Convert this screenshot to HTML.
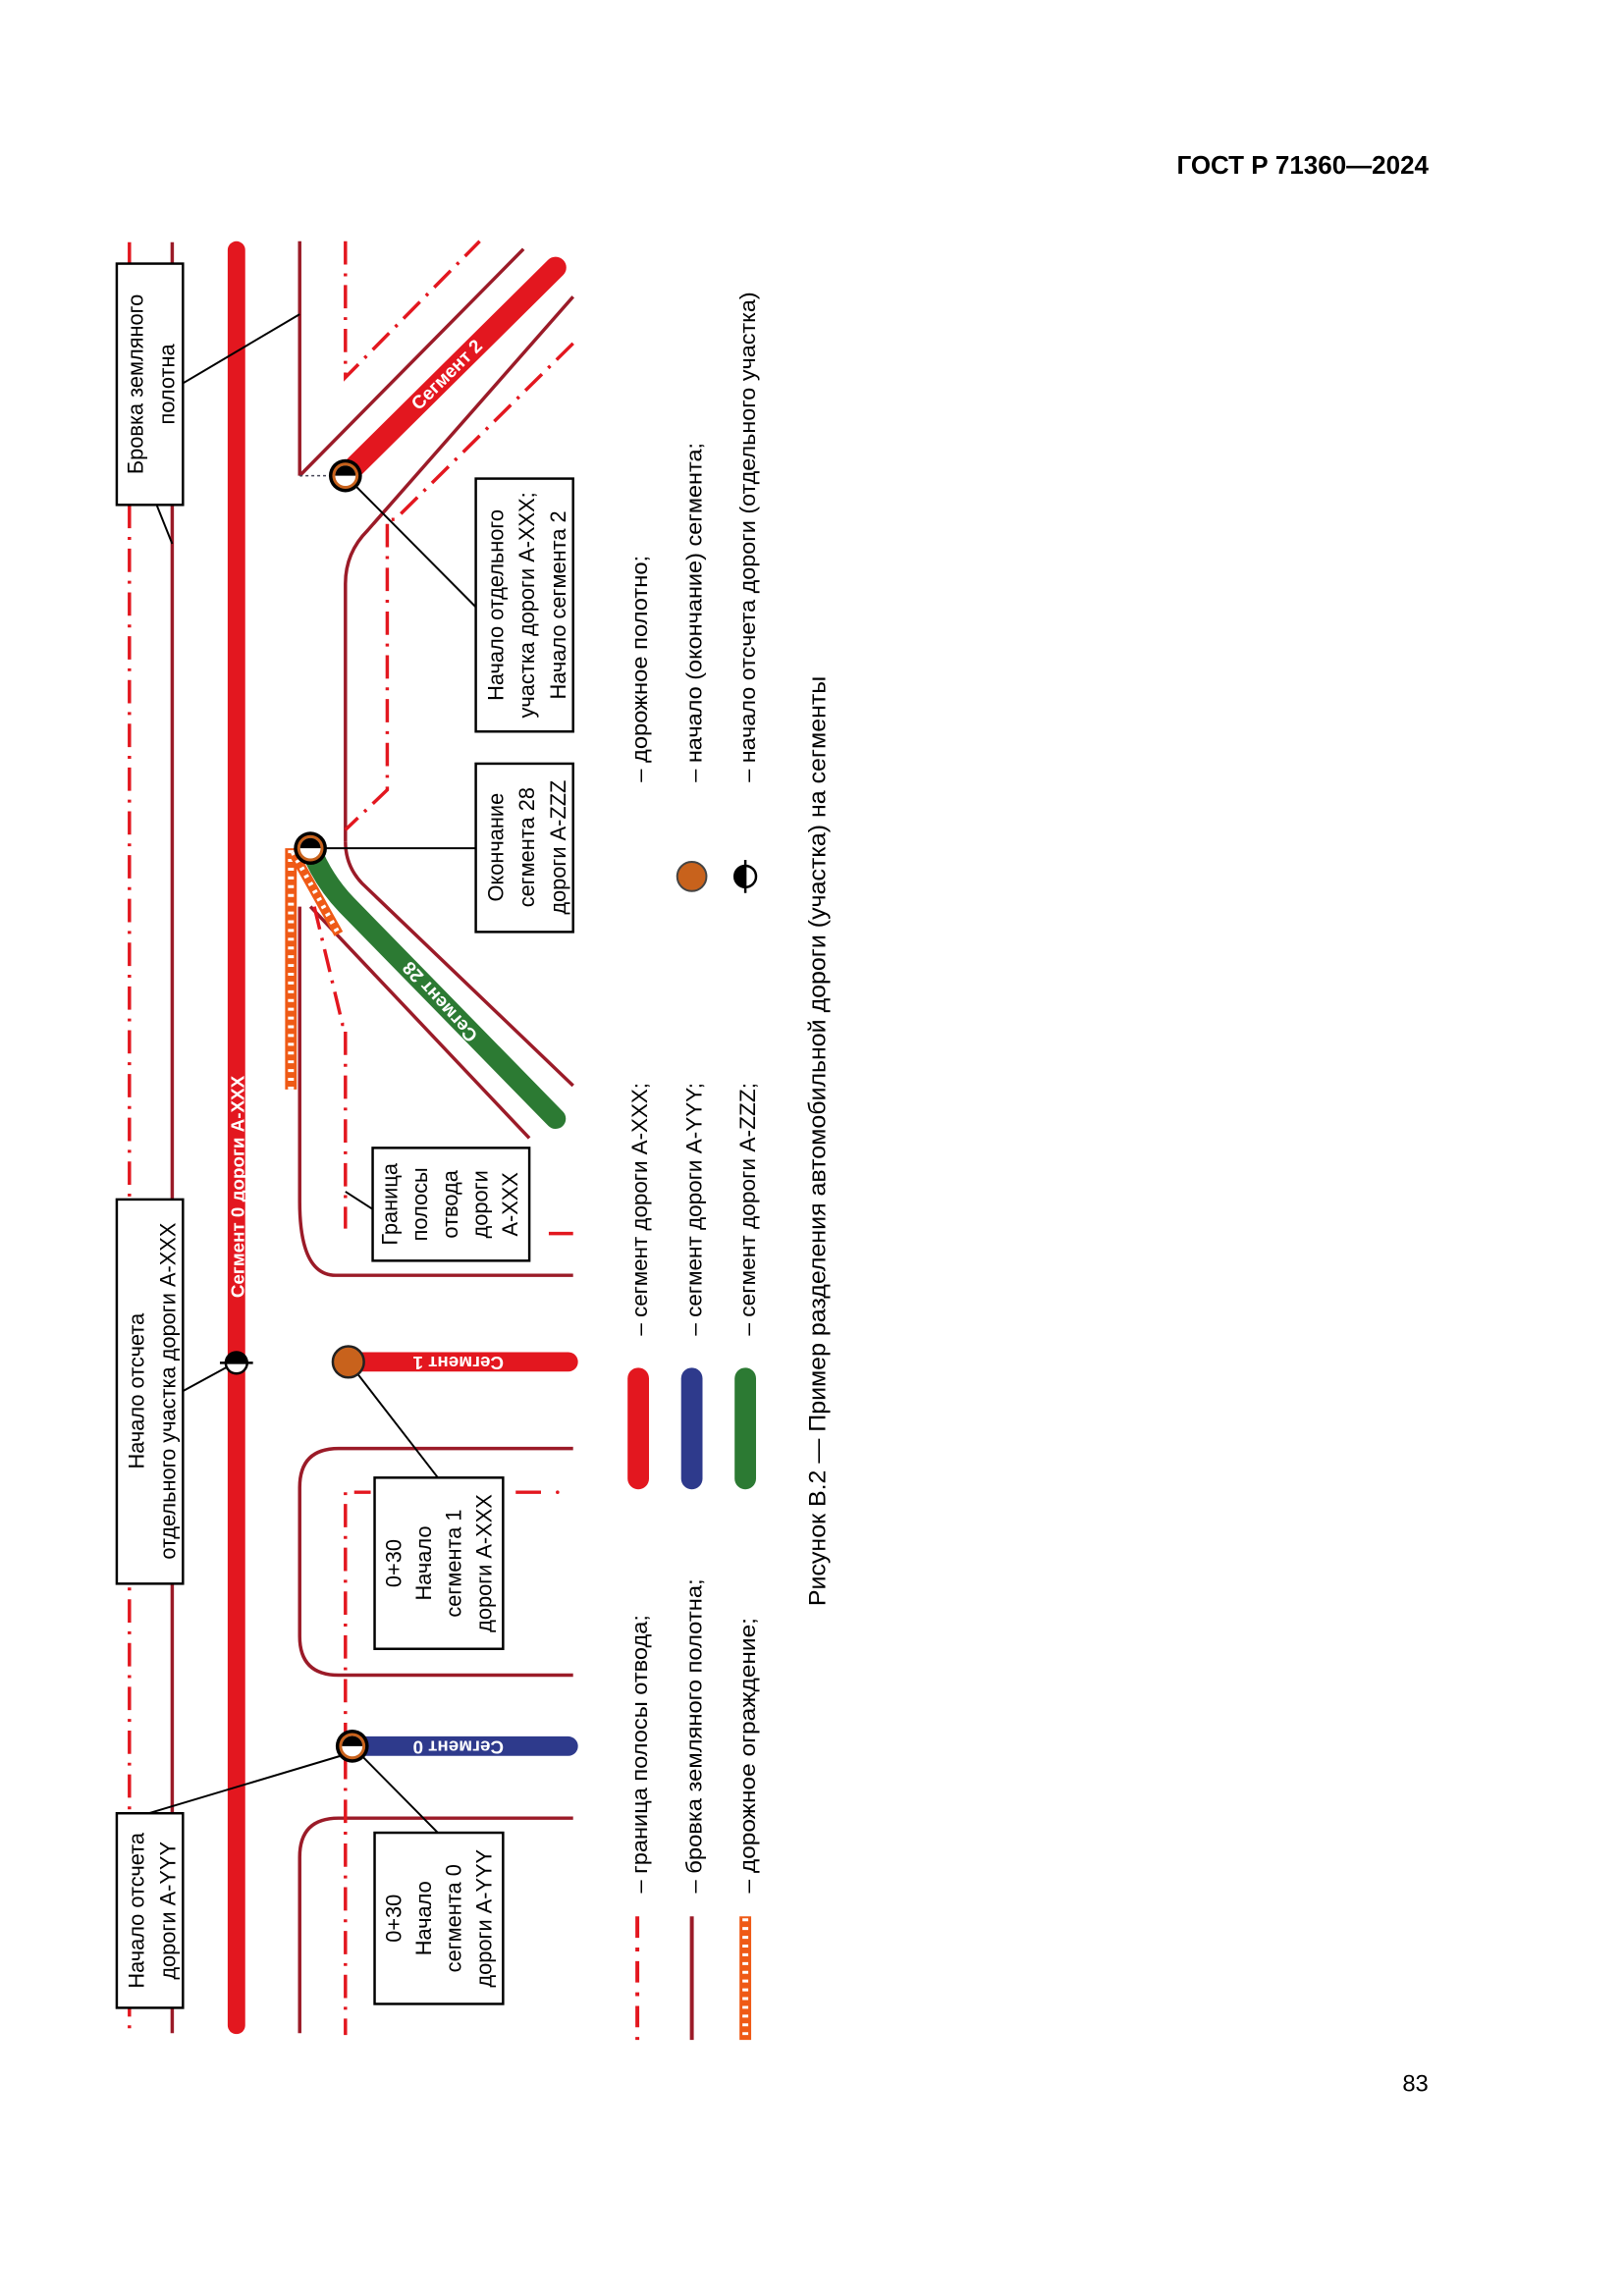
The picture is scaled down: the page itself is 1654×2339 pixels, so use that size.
<!DOCTYPE html>
<html><head><meta charset="utf-8"><style>
html,body{margin:0;padding:0;background:#fff}
svg{display:block}
text{font-family:"Liberation Sans",sans-serif}
</style></head><body>
<svg width="1654" height="2339" viewBox="0 0 1654 2339" xmlns="http://www.w3.org/2000/svg">
<defs>
<g id="half">
<circle r="11" fill="#fff" stroke="#000" stroke-width="2.5"/>
<path d="M-11,0 A11,11 0 0 1 11,0 Z" fill="#000"/>
<line x1="-17" y1="0" x2="17" y2="0" stroke="#000" stroke-width="2.5"/>
</g>
<g id="combo">
<circle r="17" fill="#000"/>
<circle r="13.5" fill="#c8621c"/>
<circle r="10.5" fill="#fff"/>
<path d="M-10.5,0 A10.5,10.5 0 0 1 10.5,0 Z" fill="#000"/>
</g>
</defs>

<text x="1455" y="177" font-size="26" font-weight="bold" text-anchor="end">ГОСТ Р 71360—2024</text>

<g transform="scale(0.991)">
<text x="1468" y="2150" font-size="24" text-anchor="end">83</text>

<g fill="none" stroke-linecap="butt">
<line x1="133" y1="249" x2="133" y2="2090" stroke="#e3171f" stroke-width="3.5" stroke-dasharray="24 9 3 9"/>
<line x1="177" y1="249" x2="177" y2="2090" stroke="#9b1b28" stroke-width="3.5"/>
<line x1="243" y1="257" x2="243" y2="2082" stroke="#e3171f" stroke-width="18" stroke-linecap="round"/>

<line x1="308" y1="248" x2="308" y2="489" stroke="#9b1b28" stroke-width="3.5"/>
<line x1="308" y1="489" x2="538" y2="256" stroke="#9b1b28" stroke-width="3.5"/>
<line x1="308" y1="489" x2="352" y2="489" stroke="#445" stroke-width="1.5" stroke-dasharray="3 3"/>
<line x1="355" y1="489" x2="571" y2="275" stroke="#e3171f" stroke-width="22" stroke-linecap="round"/>
<path d="M355,865 L355,600 Q355,568 378,545 L589,305" stroke="#9b1b28" stroke-width="3.5"/>
<path d="M355,248 L355,388 L493,248" stroke="#e3171f" stroke-width="3.5" stroke-dasharray="24 9 3 9"/>
<path d="M589,353 L406,534 L398,534 L398,812 L355,853" stroke="#e3171f" stroke-width="3.5" stroke-dasharray="24 9 3 9"/>

<path d="M319,872 Q332,905 356,930 L571,1150" stroke="#2c7a33" stroke-width="21" stroke-linecap="round"/>
<path d="M355,865 Q355,890 372,908 L589,1116" stroke="#9b1b28" stroke-width="3.5"/>
<path d="M319,932 L544,1170" stroke="#9b1b28" stroke-width="3.5"/>
<path d="M308,932 L308,1235 Q308,1311 345,1311 L589,1311" stroke="#9b1b28" stroke-width="3.5"/>
<line x1="299" y1="872" x2="299" y2="1120" stroke="#ef5a16" stroke-width="12"/>
<line x1="299" y1="874" x2="299" y2="1120" stroke="#fff" stroke-width="6" stroke-dasharray="3 6"/>
<line x1="301" y1="876" x2="348" y2="960" stroke="#ef5a16" stroke-width="10"/>
<line x1="301" y1="876" x2="348" y2="960" stroke="#fff" stroke-width="5" stroke-dasharray="3 6"/>
<path d="M323,932 L352,1053 L355,1053 L355,1263" stroke="#e3171f" stroke-width="3.5" stroke-dasharray="24 9 3 9"/>
<line x1="564" y1="1268" x2="589" y2="1268" stroke="#e3171f" stroke-width="3.5"/>

<line x1="358" y1="1400" x2="584" y2="1400" stroke="#e3171f" stroke-width="20" stroke-linecap="round"/>
<path d="M589,1489 L348,1489 Q308,1489 308,1529 L308,1682 Q308,1722 348,1722 L589,1722" stroke="#9b1b28" stroke-width="3.5"/>
<path d="M355,1795 L355,1534 L381,1534" stroke="#e3171f" stroke-width="3.5" stroke-dasharray="24 9 3 9"/>
<path d="M530,1534 L556,1534" stroke="#e3171f" stroke-width="3.5"/>
<circle cx="573" cy="1534" r="1.8" fill="#e3171f"/>

<line x1="362" y1="1795" x2="584" y2="1795" stroke="#2e3a8c" stroke-width="20" stroke-linecap="round"/>
<path d="M589,1869 L348,1869 Q308,1869 308,1909 L308,2090" stroke="#9b1b28" stroke-width="3.5"/>
<line x1="355" y1="1805" x2="355" y2="2092" stroke="#e3171f" stroke-width="3.5" stroke-dasharray="24 9 3 9"/>

<g stroke="#000" stroke-width="2">
<line x1="188" y1="394" x2="308" y2="323"/>
<line x1="161" y1="519" x2="177" y2="559"/>
<line x1="355" y1="489" x2="489" y2="624"/>
<line x1="319" y1="872" x2="489" y2="872"/>
<line x1="355" y1="1225" x2="383" y2="1243"/>
<line x1="188" y1="1430" x2="243" y2="1400"/>
<line x1="358" y1="1400" x2="450" y2="1519"/>
<line x1="153" y1="1864" x2="350" y2="1805"/>
<line x1="362" y1="1795" x2="450" y2="1884"/>
</g>
</g>

<use href="#combo" x="355" y="489"/>
<use href="#combo" x="319" y="872"/>
<use href="#combo" x="362" y="1795"/>
<circle cx="358" cy="1400" r="16" fill="#c8621c" stroke="#222" stroke-width="2.5"/>
<use href="#half" x="243" y="1401"/>

<g font-weight="bold" fill="#fff" font-size="19" text-anchor="middle" dominant-baseline="central">
<text transform="translate(244,1220) rotate(-90)">Сегмент 0 дороги А-XXX</text>
<text transform="translate(459,385) rotate(-44.7)">Сегмент 2</text>
<text transform="translate(452,1030) rotate(-132.2)">Сегмент 28</text>
<text transform="translate(471,1401) rotate(180)">Сегмент 1</text>
<text transform="translate(471,1796) rotate(180)">Сегмент 0</text>
</g>

<g fill="#fff" stroke="#000" stroke-width="2.5">
<rect x="120" y="271" width="68" height="248"/>
<rect x="489" y="492" width="100" height="260"/>
<rect x="489" y="785" width="100" height="173"/>
<rect x="383" y="1180" width="161" height="116"/>
<rect x="385" y="1519" width="132" height="176"/>
<rect x="385" y="1884" width="132" height="176"/>
<rect x="120" y="1233" width="68" height="395"/>
<rect x="120" y="1864" width="68" height="200"/>
</g>
<g font-size="22" text-anchor="middle">
<text transform="translate(147,395) rotate(-90)"><tspan x="0">Бровка земляного</tspan><tspan x="0" dy="32">полотна</tspan></text>
<text transform="translate(517,622) rotate(-90)"><tspan x="0">Начало отдельного</tspan><tspan x="0" dy="32">участка дороги А-XXX;</tspan><tspan x="0" dy="32">Начало сегмента 2</tspan></text>
<text transform="translate(517,871) rotate(-90)"><tspan x="0">Окончание</tspan><tspan x="0" dy="32">сегмента 28</tspan><tspan x="0" dy="32">дороги А-ZZZ</tspan></text>
<text transform="translate(408,1238) rotate(-90)"><tspan x="0">Граница</tspan><tspan x="0" dy="31">полосы</tspan><tspan x="0" dy="31">отвода</tspan><tspan x="0" dy="31">дороги</tspan><tspan x="0" dy="31">А-XXX</tspan></text>
<text transform="translate(412,1607) rotate(-90)"><tspan x="0">0+30</tspan><tspan x="0" dy="31">Начало</tspan><tspan x="0" dy="31">сегмента 1</tspan><tspan x="0" dy="31">дороги А-XXX</tspan></text>
<text transform="translate(412,1972) rotate(-90)"><tspan x="0">0+30</tspan><tspan x="0" dy="31">Начало</tspan><tspan x="0" dy="31">сегмента 0</tspan><tspan x="0" dy="31">дороги А-YYY</tspan></text>
<text transform="translate(148,1430) rotate(-90)"><tspan x="0">Начало отсчета</tspan><tspan x="0" dy="32">отдельного участка дороги А-XXX</tspan></text>
<text transform="translate(148,1964) rotate(-90)"><tspan x="0">Начало отсчета</tspan><tspan x="0" dy="32">дороги А-YYY</tspan></text>
</g>

<line x1="655" y1="1970" x2="655" y2="2097" stroke="#e3171f" stroke-width="4" stroke-dasharray="22 10 4 10"/>
<line x1="711" y1="1970" x2="711" y2="2097" stroke="#9b1b28" stroke-width="4"/>
<line x1="766" y1="1970" x2="766" y2="2097" stroke="#ef5a16" stroke-width="12"/>
<line x1="766" y1="1972" x2="766" y2="2097" stroke="#fff" stroke-width="6" stroke-dasharray="3 6"/>
<line x1="656" y1="1417" x2="656" y2="1520" stroke="#e3171f" stroke-width="22" stroke-linecap="round"/>
<line x1="711" y1="1417" x2="711" y2="1520" stroke="#2e3a8c" stroke-width="22" stroke-linecap="round"/>
<line x1="766" y1="1417" x2="766" y2="1520" stroke="#2c7a33" stroke-width="22" stroke-linecap="round"/>
<circle cx="711" cy="901" r="15" fill="#c8621c" stroke="#444" stroke-width="2"/>
<g transform="translate(766,901) rotate(-90)"><use href="#half"/></g>

<g font-size="22">
<text transform="translate(665,1946) rotate(-90)" textLength="286" lengthAdjust="spacingAndGlyphs">– граница полосы отвода;</text>
<text transform="translate(721,1946) rotate(-90)" textLength="323" lengthAdjust="spacingAndGlyphs">– бровка земляного полотна;</text>
<text transform="translate(776,1946) rotate(-90)" textLength="283" lengthAdjust="spacingAndGlyphs">– дорожное ограждение;</text>
<text transform="translate(665,1373) rotate(-90)" textLength="260" lengthAdjust="spacingAndGlyphs">– сегмент дороги А-XXX;</text>
<text transform="translate(721,1373) rotate(-90)" textLength="260" lengthAdjust="spacingAndGlyphs">– сегмент дороги А-YYY;</text>
<text transform="translate(776,1373) rotate(-90)" textLength="260" lengthAdjust="spacingAndGlyphs">– сегмент дороги А-ZZZ;</text>
<text transform="translate(665,804) rotate(-90)" textLength="233" lengthAdjust="spacingAndGlyphs">– дорожное полотно;</text>
<text transform="translate(721,804) rotate(-90)" textLength="349" lengthAdjust="spacingAndGlyphs">– начало (окончание) сегмента;</text>
<text transform="translate(776,804) rotate(-90)" textLength="504" lengthAdjust="spacingAndGlyphs">– начало отсчета дороги (отдельного участка)</text>
</g>
<text transform="translate(848,1651) rotate(-90)" font-size="24" textLength="956" lengthAdjust="spacingAndGlyphs">Рисунок В.2 — Пример разделения автомобильной дороги (участка) на сегменты</text>
</g>
</svg>
</body></html>
